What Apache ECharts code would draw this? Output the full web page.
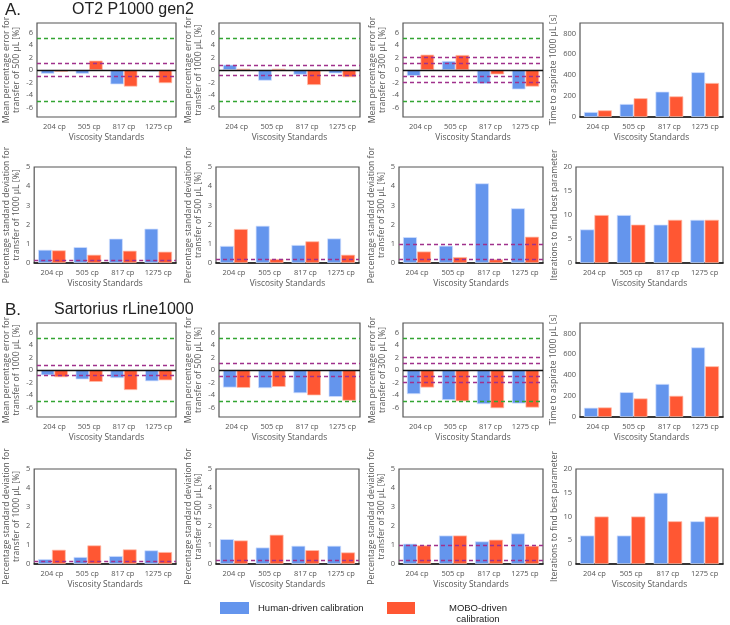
<!DOCTYPE html>
<html><head><meta charset="utf-8">
<script src="https://cdn.jsdelivr.net/npm/echarts@6/dist/echarts.min.js"></script>
<style>html,body{margin:0;padding:0;background:#fff}#c{width:730px;height:625px}</style>
</head><body><div id="c"></div>
<script>
const categories = ['204 cp', '505 cp', '817 cp', '1275 cp'];

// A. OT2 P1000 gen2
const aErr500Human = [-0.6, -0.6, -2.3, -0.25];
const aErr500Mobo = [-0.3, 1.5, -2.65, -2.1];
const aErr1000Human = [0.85, -1.7, -0.75, -0.55];
const aErr1000Mobo = [0.2, 0.2, -2.4, -1.15];
const aErr300Human = [-0.95, 1.45, -2.2, -3.1];
const aErr300Mobo = [2.45, 2.4, -0.7, -2.65];
const aTimeHuman = [48, 125, 243, 429];
const aTimeMobo = [64, 180, 198, 326];
const aSd1000Human = [0.69, 0.83, 1.27, 1.79];
const aSd1000Mobo = [0.66, 0.43, 0.64, 0.59];
const aSd500Human = [0.89, 1.94, 0.94, 1.28];
const aSd500Mobo = [1.77, 0.21, 1.13, 0.43];
const aSd300Human = [1.35, 0.9, 4.15, 2.85];
const aSd300Mobo = [0.6, 0.31, 0.19, 1.37];
const aIterHuman = [7, 10, 8, 9];
const aIterMobo = [10, 8, 9, 9];

// B. Sartorius rLine1000
const bErr1000Human = [-0.85, -1.5, -1.3, -1.8];
const bErr1000Mobo = [-1.15, -1.9, -3.2, -1.65];
const bErr500Human = [-2.8, -2.9, -3.7, -4.3];
const bErr500Mobo = [-2.85, -2.7, -4.05, -4.9];
const bErr300Human = [-3.85, -4.8, -5.45, -5.35];
const bErr300Mobo = [-2.8, -5.0, -6.1, -6.0];
const bTimeHuman = [89, 238, 317, 667];
const bTimeMobo = [92, 178, 203, 486];
const bSd1000Human = [0.26, 0.37, 0.42, 0.72];
const bSd1000Mobo = [0.75, 0.98, 0.77, 0.63];
const bSd500Human = [1.31, 0.87, 0.96, 0.96];
const bSd500Mobo = [1.24, 1.54, 0.73, 0.61];
const bSd300Human = [1.07, 1.5, 1.19, 1.61];
const bSd300Mobo = [0.98, 1.5, 1.28, 0.96];
const bIterHuman = [6, 6, 15, 9];
const bIterMobo = [10, 10, 9, 10];

// reference limits
const errGreenLimit = [5];
const errPurple1000 = [0.8];
const errPurple500 = [1];
const errPurple300 = [1, 2];
const sdPurple1000 = [0.15];
const sdPurple500 = [0.2];
const sdPurple300 = [0.2, 1];

const BLUE = '#6495ED', RED = '#FF5733', GREEN = '#33a532', PURPLE = '#a0318c';
const AX = 'Open Sans', TF = 'Liberation Sans';

const panels = [
  {r:0,c:0,t:'err',h:aErr500Human,m:aErr500Mobo,name:'Mean percentage error for\ntransfer of 500 µL [%]',p:errPurple500},
  {r:0,c:1,t:'err',h:aErr1000Human,m:aErr1000Mobo,name:'Mean percentage error for\ntransfer of 1000 µL [%]',p:errPurple1000},
  {r:0,c:2,t:'err',h:aErr300Human,m:aErr300Mobo,name:'Mean percentage error for\ntransfer of 300 µL [%]',p:errPurple300},
  {r:0,c:3,t:'time',h:aTimeHuman,m:aTimeMobo,name:'Time to aspirate 1000 µL [s]',p:[]},
  {r:1,c:0,t:'sd',h:aSd1000Human,m:aSd1000Mobo,name:'Percentage standard deviation for\ntransfer of 1000 µL [%]',p:sdPurple1000},
  {r:1,c:1,t:'sd',h:aSd500Human,m:aSd500Mobo,name:'Percentage standard deviation for\ntransfer of 500 µL [%]',p:sdPurple500},
  {r:1,c:2,t:'sd',h:aSd300Human,m:aSd300Mobo,name:'Percentage standard deviation for\ntransfer of 300 µL [%]',p:sdPurple300},
  {r:1,c:3,t:'iter',h:aIterHuman,m:aIterMobo,name:'Iterations to find best parameter',p:[]},
  {r:2,c:0,t:'err',h:bErr1000Human,m:bErr1000Mobo,name:'Mean percentage error for\ntransfer of 1000 µL [%]',p:errPurple1000},
  {r:2,c:1,t:'err',h:bErr500Human,m:bErr500Mobo,name:'Mean percentage error for\ntransfer of 500 µL [%]',p:errPurple500},
  {r:2,c:2,t:'err',h:bErr300Human,m:bErr300Mobo,name:'Mean percentage error for\ntransfer of 300 µL [%]',p:errPurple300},
  {r:2,c:3,t:'time',h:bTimeHuman,m:bTimeMobo,name:'Time to aspirate 1000 µL [s]',p:[]},
  {r:3,c:0,t:'sd',h:bSd1000Human,m:bSd1000Mobo,name:'Percentage standard deviation for\ntransfer of 1000 µL [%]',p:sdPurple1000},
  {r:3,c:1,t:'sd',h:bSd500Human,m:bSd500Mobo,name:'Percentage standard deviation for\ntransfer of 500 µL [%]',p:sdPurple500},
  {r:3,c:2,t:'sd',h:bSd300Human,m:bSd300Mobo,name:'Percentage standard deviation for\ntransfer of 300 µL [%]',p:sdPurple300},
  {r:3,c:3,t:'iter',h:bIterHuman,m:bIterMobo,name:'Iterations to find best parameter',p:[]}
];

const rowTop = [23, 167, 323, 469];
const rowH = [94, 96, 94, 95];
const meanL = [35, 219, 403, 580], meanW = [141, 141, 140, 143];
const sdL = [32, 216, 399, 576], sdW = [144, 143, 144, 147];

const grids = [], xAxes = [], yAxes = [], series = [];
panels.forEach((p, i) => {
  const meanRow = (p.r % 2 === 0);
  const left = meanRow ? meanL[p.c] : sdL[p.c];
  const width = meanRow ? meanW[p.c] : sdW[p.c];
  grids.push({left: left, top: rowTop[p.r], width: width, height: rowH[p.r], show: true,
    borderColor: '#555', borderWidth: 1.2, backgroundColor: '#fff'});
  xAxes.push({type: 'category', gridIndex: i, data: categories, position: 'bottom',
    axisLine: {show: p.t !== 'err', lineStyle: {color: '#111', width: 1.5}},
    axisTick: {show: false},
    axisLabel: {color: '#555', fontSize: 7.5, fontFamily: AX, margin: 6, interval: 0},
    name: 'Viscosity Standards', nameLocation: 'middle', nameGap: 17,
    nameTextStyle: {color: '#555', fontSize: 8.4, fontFamily: AX}});
  let y = {type: 'value', gridIndex: i, splitLine: {show: false},
    axisLine: {show: false}, axisTick: {show: false},
    axisLabel: {color: '#555', fontSize: 7.5, fontFamily: AX, margin: 4},
    name: p.name, nameLocation: 'middle',
    nameTextStyle: {color: '#555', fontSize: 8.6, fontFamily: AX, lineHeight: 10.5}};
  if (p.t === 'err') {
    Object.assign(y, {min: -7.5, max: 7.5, interval: 0.5, nameGap: 15});
    y.axisLabel.formatter = v => (Number.isInteger(v) && v % 2 === 0 && Math.abs(v) <= 6) ? String(v) : '';
  } else if (p.t === 'sd') {
    Object.assign(y, {min: 0, max: 5, interval: 1, nameGap: 11});
  } else if (p.t === 'time') {
    Object.assign(y, {min: 0, max: 900, interval: 100, nameGap: 18});
    y.axisLabel.formatter = v => (v % 200 === 0 && v <= 800) ? String(v) : '';
  } else {
    Object.assign(y, {min: 0, max: 20, interval: 5, nameGap: 11});
  }
  yAxes.push(y);

  const ml = [];
  const dash = (c) => ({color: c, type: [4, 3], width: 1.4});
  if (p.t === 'err') {
    errGreenLimit.forEach(v => { ml.push({yAxis: v, lineStyle: dash(GREEN)}); ml.push({yAxis: -v, lineStyle: dash(GREEN)}); });
    p.p.forEach(v => { ml.push({yAxis: v, lineStyle: dash(PURPLE)}); ml.push({yAxis: -v, lineStyle: dash(PURPLE)}); });
    ml.push({yAxis: 0, lineStyle: {color: '#111', type: 'solid', width: 1.3}});
  } else if (p.t === 'sd') {
    p.p.forEach(v => ml.push({yAxis: v, lineStyle: dash(PURPLE)}));
  }
  series.push({name: 'Human-driven calibration', type: 'bar', xAxisIndex: i, yAxisIndex: i, data: p.h,
    barGap: '0%', barCategoryGap: '22%',
    itemStyle: {color: BLUE, borderColor: 'rgba(210,225,255,0.9)', borderWidth: 0.8},
    markLine: ml.length ? {silent: true, symbol: 'none', label: {show: false}, data: ml, animation: false} : undefined,
    animation: false});
  series.push({name: 'MOBO-driven calibration', type: 'bar', xAxisIndex: i, yAxisIndex: i, data: p.m,
    barGap: '0%', barCategoryGap: '22%',
    itemStyle: {color: RED, borderColor: 'rgba(255,190,170,0.9)', borderWidth: 0.8},
    animation: false});
});

const graphic = [
  {type: 'text', left: 5, top: 2, style: {text: 'A.', fontSize: 17, fontFamily: TF, fill: '#222'}},
  {type: 'text', left: 72, top: 2, style: {text: 'OT2 P1000 gen2', fontSize: 16, fontFamily: TF, fill: '#222'}},
  {type: 'text', left: 5, top: 302, style: {text: 'B.', fontSize: 17, fontFamily: TF, fill: '#222'}},
  {type: 'text', left: 54, top: 302, style: {text: 'Sartorius rLine1000', fontSize: 16, fontFamily: TF, fill: '#222'}},
  {type: 'rect', shape: {x: 220, y: 602, width: 29, height: 12}, style: {fill: BLUE}},
  {type: 'text', x: 258, y: 608, style: {text: 'Human-driven calibration', fontSize: 9.5, fontFamily: TF, fill: '#222', verticalAlign: 'middle'}},
  {type: 'rect', shape: {x: 387, y: 602, width: 28, height: 12}, style: {fill: RED}},
  {type: 'text', x: 478, y: 614, style: {text: 'MOBO-driven\ncalibration', fontSize: 9.5, lineHeight: 11, fontFamily: TF, fill: '#222', align: 'center', verticalAlign: 'middle'}}
];

const chart = echarts.init(document.getElementById('c'), null, {renderer: 'canvas'});
chart.setOption({animation: false, backgroundColor: '#fff', grid: grids, xAxis: xAxes, yAxis: yAxes, series: series, graphic: graphic});
</script></body></html>
